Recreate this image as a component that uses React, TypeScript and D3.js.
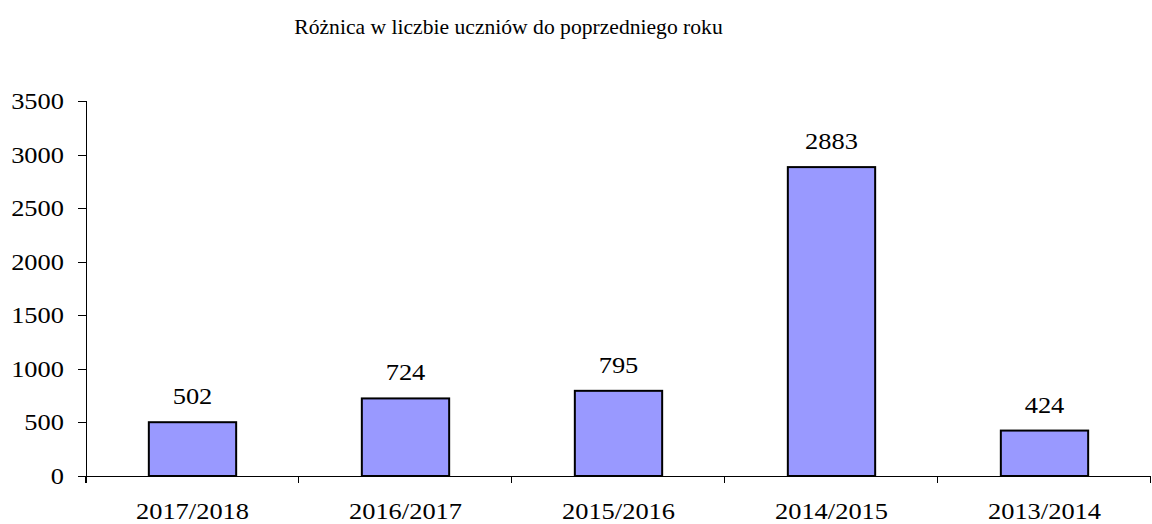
import React from "react";
import * as d3 from "d3";

const title = "Różnica w liczbie uczniów do poprzedniego roku";
const categories = ["2017/2018", "2016/2017", "2015/2016", "2014/2015", "2013/2014"];
const values = [502, 724, 795, 2883, 424];
const yTicks = [0, 500, 1000, 1500, 2000, 2500, 3000, 3500];

const FONT = "Liberation Serif";

function T(props: { x: number; y: number; size: number; sx: number; anchor: string; children: React.ReactNode }) {
  return (
    <text
      transform={`translate(${props.x},${props.y}) scale(${props.sx},1)`}
      textAnchor={props.anchor}
      style={{ fontFamily: FONT, fontSize: props.size + "px" }}
      fill="#000"
    >
      {String(props.children)}
    </text>
  );
}

export default function App() {
  const W = 1152, H = 524;
  const left = 86, right = 1151, top = 101, bottom = 476;
  const x = d3.scaleBand<string>().domain(categories).range([left, right]).paddingInner(0).paddingOuter(0);
  const y = d3.scaleLinear().domain([0, 3500]).range([bottom, top]);
  const bw = x.bandwidth() * 0.41;
  const boundaries = categories.map((c) => x(c) as number).concat([right]);
  const SX = 1.15;
  return (
    <svg width={W} height={H} style={{ position: "absolute", left: 0, top: 0 }}>
      <rect width={W} height={H} fill="#fff" />
      <T x={508.5} y={34} size={21} sx={1.03} anchor="middle">{title}</T>
      {values.map((v, i) => {
        const cx = (x(categories[i]) as number) + x.bandwidth() / 2;
        return (
          <g key={i}>
            <rect x={cx - bw / 2} y={y(v)} width={bw} height={bottom - y(v)} fill="#9999FF" stroke="#000" strokeWidth={2} />
            <T x={cx} y={y(v) - 18} size={23} sx={SX} anchor="middle">{v}</T>
          </g>
        );
      })}
      <line x1={left + 0.5} x2={left + 0.5} y1={top} y2={bottom + 7} stroke="#000" />
      <line x1={left - 8} x2={right} y1={bottom + 0.5} y2={bottom + 0.5} stroke="#000" />
      {yTicks.map((t) => (
        <g key={t}>
          <line x1={left - 8} x2={left} y1={Math.round(y(t)) + 0.5} y2={Math.round(y(t)) + 0.5} stroke="#000" />
          <T x={64} y={y(t) + 8} size={23} sx={SX} anchor="end">{t}</T>
        </g>
      ))}
      {boundaries.map((b, i) => (
        <line key={i} x1={Math.round(b) - 0.5} x2={Math.round(b) - 0.5} y1={bottom} y2={bottom + 7} stroke="#000" />
      ))}
      {categories.map((c) => (
        <T key={c} x={(x(c) as number) + x.bandwidth() / 2} y={519} size={23} sx={SX} anchor="middle">{c}</T>
      ))}
    </svg>
  );
}
